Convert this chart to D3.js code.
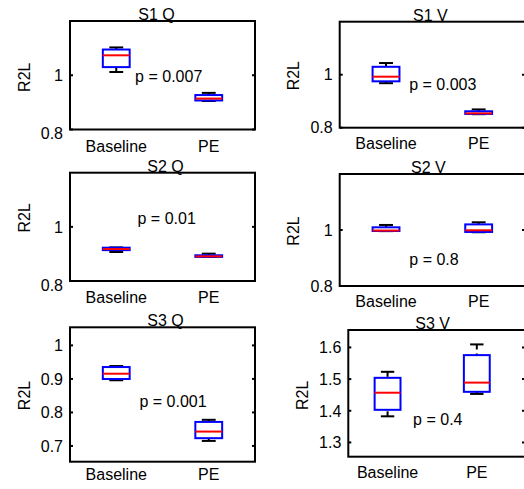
<!DOCTYPE html>
<html>
<head>
<meta charset="utf-8">
<script src="https://cdn.jsdelivr.net/npm/d3@7"></script>
<style>
  body { margin: 0; background: #fff; }
  svg { display: block; font-family: "Liberation Sans", Arial, sans-serif; }
</style>
</head>
<body>
<div id="chart"></div>
<script>
// data, one entry per panel, [Baseline, PE]
var panelNames = ["S1 Q", "S1 V", "S2 Q", "S2 V", "S3 Q", "S3 V"];
var groups = ["Baseline", "PE"];
var pLabels = ["p = 0.007", "p = 0.003", "p = 0.01", "p = 0.8", "p = 0.001", "p = 0.4"];
var yTicks = [[0.8, 1], [0.8, 1], [0.8, 1], [0.8, 1], [0.7, 0.8, 0.9, 1], [1.3, 1.4, 1.5, 1.6]];

var whiskerLo = [[1.012, 0.905], [0.968, 0.851], [0.907, 0.889], [0.996, 0.992], [0.896, 0.715], [1.3825, 1.4532]];
var q1        = [[1.030, 0.907], [0.975, 0.852], [0.914, 0.889], [0.9964, 0.993], [0.8997, 0.7232], [1.403, 1.4598]];
var medians   = [[1.0735, 0.914], [0.9925, 0.854], [0.918, 0.891], [0.998, 0.999], [0.9155, 0.7429], [1.457, 1.4889]];
var q3        = [[1.0948, 0.927], [1.0298, 0.862], [0.923, 0.895], [1.0096, 1.020], [0.9354, 0.7717], [1.504, 1.5757]];
var whiskerHi = [[1.1026, 0.935], [1.044, 0.869], [0.924, 0.901], [1.018, 1.0275], [0.9384, 0.778], [1.523, 1.6095]];

var width = 524;
var height = 489;

// axes boxes (pixels) and where the annotations sit
var layout = [
  { x0: 70, x1: 255, y0: 21, y1: 129.5, xdom: [0.5, 2.5], ydom: [0.8, 1.2], p: [1.567, 0.996], titleDx: -6, ylabDy: 2, xlabDy: 22, lowTickDy: 4 },
  { x0: 339.7, x1: 525, y0: 21.7, y1: 127.7, xdom: [0.5, 2.5], ydom: [0.8, 1.2], p: [1.613, 0.965], titleDx: -2, ylabDy: 1, xlabDy: 21, lowTickDy: 0 },
  { x0: 70, x1: 255, y0: 172.7, y1: 281, xdom: [0.5, 2.5], ydom: [0.8, 1.2], p: [1.545, 1.0315], titleDx: 3, ylabDy: -9, xlabDy: 22, lowTickDy: 4 },
  { x0: 339.7, x1: 525, y0: 174, y1: 286, xdom: [0.5, 2.5], ydom: [0.8, 1.2], p: [1.518, 0.896], titleDx: -4, ylabDy: 1, xlabDy: 21, lowTickDy: 0 },
  { x0: 70, x1: 255, y0: 327.3, y1: 461.7, xdom: [0.5, 2.5], ydom: [0.653, 1.054], p: [1.614, 0.832], titleDx: 3, ylabDy: 1, xlabDy: 18, lowTickDy: 0 },
  { x0: 348.3, x1: 525, y0: 330, y1: 456.7, xdom: [0.56, 2.54], ydom: [1.255, 1.655], p: [1.563, 1.373], titleDx: -4, ylabDy: 2, xlabDy: 21.5, lowTickDy: 0 }
];

var boxW = 0.29;
var capW = 0.15;

var svg = d3.select("#chart")
  .append("svg")
  .attr("width", width)
  .attr("height", height);

svg.append("rect").attr("width", width).attr("height", height).attr("fill", "#fff");

layout.forEach(function (L, k) {
  var x = d3.scaleLinear().domain(L.xdom).range([L.x0, L.x1]);
  var y = d3.scaleLinear().domain(L.ydom).range([L.y1, L.y0]);
  var g = svg.append("g");

  var stats = groups.map(function (name, i) {
    return { name: name, pos: i + 1, lo: whiskerLo[k][i], q1: q1[k][i], med: medians[k][i], q3: q3[k][i], hi: whiskerHi[k][i] };
  });

  // whiskers (dashed)
  g.selectAll(".wh")
    .data(stats.flatMap(function (d) { return [[d.pos, d.hi, d.q3], [d.pos, d.lo, d.q1]]; }))
    .join("line")
    .attr("x1", d => x(d[0])).attr("x2", d => x(d[0]))
    .attr("y1", d => y(d[1])).attr("y2", d => y(d[2]))
    .attr("stroke", "#000").attr("stroke-width", 2)
    .attr("stroke-dasharray", "5,4");

  // whisker caps
  g.selectAll(".cap")
    .data(stats.flatMap(function (d) { return [[d.pos, d.hi], [d.pos, d.lo]]; }))
    .join("line")
    .attr("x1", d => x(d[0] - capW / 2)).attr("x2", d => x(d[0] + capW / 2))
    .attr("y1", d => y(d[1])).attr("y2", d => y(d[1]))
    .attr("stroke", "#000").attr("stroke-width", 2);

  // boxes
  g.selectAll(".box")
    .data(stats)
    .join("rect")
    .attr("x", d => x(d.pos - boxW / 2))
    .attr("width", d => x(d.pos + boxW / 2) - x(d.pos - boxW / 2))
    .attr("y", d => y(d.q3))
    .attr("height", d => y(d.q1) - y(d.q3))
    .attr("fill", "none")
    .attr("stroke", "#0000ff").attr("stroke-width", 2);

  // medians
  g.selectAll(".med")
    .data(stats)
    .join("line")
    .attr("x1", d => x(d.pos - boxW / 2)).attr("x2", d => x(d.pos + boxW / 2))
    .attr("y1", d => y(d.med)).attr("y2", d => y(d.med))
    .attr("stroke", "#ff0000").attr("stroke-width", 2);

  // frame
  g.append("rect")
    .attr("x", L.x0).attr("y", L.y0)
    .attr("width", L.x1 - L.x0).attr("height", L.y1 - L.y0)
    .attr("fill", "none").attr("stroke", "#000").attr("stroke-width", 2);

  // y ticks, inward on both sides
  g.selectAll(".tl")
    .data(yTicks[k])
    .join("line")
    .attr("x1", L.x0).attr("x2", L.x0 + 3)
    .attr("y1", d => y(d)).attr("y2", d => y(d))
    .attr("stroke", "#000").attr("stroke-width", 2);
  g.selectAll(".tr")
    .data(yTicks[k])
    .join("line")
    .attr("class", "tr")
    .attr("x1", L.x1 - 3).attr("x2", L.x1)
    .attr("y1", d => y(d)).attr("y2", d => y(d))
    .attr("stroke", "#000").attr("stroke-width", 2);

  g.selectAll(".ytl")
    .data(yTicks[k])
    .join("text")
    .attr("x", L.x0 - 7)
    .attr("y", (d, i) => y(d) + (i === 0 ? L.lowTickDy : 0))
    .attr("dy", "0.36em")
    .attr("text-anchor", "end")
    .attr("font-size", "16px")
    .text(d => String(d));

  // x tick labels
  g.selectAll(".xtl")
    .data(stats)
    .join("text")
    .attr("x", d => x(d.pos))
    .attr("y", L.y1 + L.xlabDy)
    .attr("text-anchor", "middle")
    .attr("font-size", "16px")
    .text(d => d.name);

  // title
  g.append("text")
    .attr("x", (L.x0 + L.x1) / 2 + L.titleDx)
    .attr("y", L.y0 - 1)
    .attr("text-anchor", "middle")
    .attr("font-size", "16px")
    .text(panelNames[k]);

  // y label
  var ly = (L.y0 + L.y1) / 2 + L.ylabDy;
  g.append("text")
    .attr("transform", "translate(" + (L.x0 - 46) + "," + ly + ") rotate(-90)")
    .attr("text-anchor", "middle")
    .attr("dy", "0.36em")
    .attr("font-size", "16px")
    .text("R2L");

  // p value
  g.append("text")
    .attr("x", x(L.p[0]))
    .attr("y", y(L.p[1]))
    .attr("dy", "0.36em")
    .attr("text-anchor", "middle")
    .attr("font-size", "16px")
    .text(pLabels[k]);
});
</script>
</body>
</html>
